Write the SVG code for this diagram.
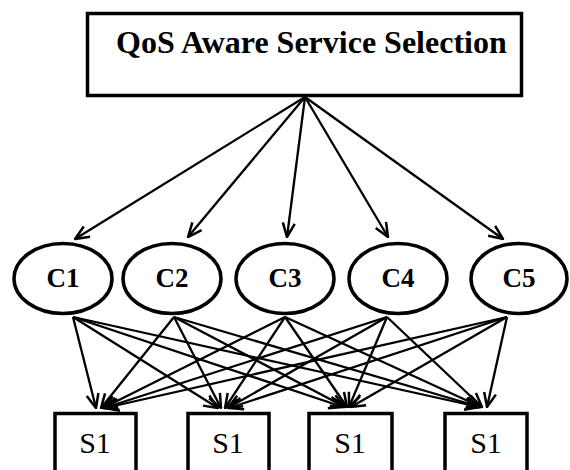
<svg xmlns="http://www.w3.org/2000/svg" width="570" height="470" viewBox="0 0 570 470">
<defs>
<marker id="ah" viewBox="0 0 16 16" markerWidth="16" markerHeight="16" markerUnits="userSpaceOnUse" refX="15" refY="8" orient="auto">
<path d="M1,2 L15,8 L1,14" fill="none" stroke="#000" stroke-width="2.5"/>
</marker>
<style>
.box{fill:#fff;stroke:#000;stroke-width:3.5}
.ell{fill:#fff;stroke:#000;stroke-width:3.5}
.title{font-family:"Liberation Serif","Times New Roman",serif;font-weight:bold;font-size:32px}
.cl{font-family:"Liberation Serif","Times New Roman",serif;font-weight:bold;font-size:27px;text-anchor:middle}
.sl{font-family:"Liberation Serif","Times New Roman",serif;font-size:30px;text-anchor:middle}
.conn line{stroke:#000;stroke-width:2.3;marker-end:url(#ah)}
</style>
</defs>
<g id="top">
<rect class="box" x="87.5" y="13.5" width="434" height="82"/>
<text class="title" x="116" y="53">QoS Aware Service Selection</text>
</g>
<g id="C1"><ellipse class="ell" cx="63" cy="278.5" rx="49" ry="35"/><text class="cl" x="63" y="287">C1</text></g>
<g id="C2"><ellipse class="ell" cx="172" cy="278.5" rx="49" ry="35"/><text class="cl" x="172" y="287">C2</text></g>
<g id="C3"><ellipse class="ell" cx="285" cy="278.5" rx="49" ry="35"/><text class="cl" x="285" y="287">C3</text></g>
<g id="C4"><ellipse class="ell" cx="398" cy="278.5" rx="49" ry="35"/><text class="cl" x="398" y="287">C4</text></g>
<g id="C5"><ellipse class="ell" cx="519" cy="278.5" rx="48" ry="35"/><text class="cl" x="519" y="287">C5</text></g>
<g id="S1a"><rect class="box" x="55" y="413.5" width="81" height="70"/><text class="sl" x="95" y="453">S1</text></g>
<g id="S1b"><rect class="box" x="188" y="413.5" width="81" height="70"/><text class="sl" x="228" y="453">S1</text></g>
<g id="S1c"><rect class="box" x="309" y="413.5" width="83" height="70"/><text class="sl" x="350" y="453">S1</text></g>
<g id="S1d"><rect class="box" x="445" y="413.5" width="82" height="70"/><text class="sl" x="486" y="453">S1</text></g>
<g class="conn" id="connectors">
<line x1="305" y1="97" x2="75" y2="239"/>
<line x1="305" y1="97" x2="188" y2="237"/>
<line x1="305" y1="97" x2="287" y2="237"/>
<line x1="305" y1="97" x2="388" y2="237"/>
<line x1="305" y1="97" x2="503" y2="239"/>

<line x1="73" y1="317" x2="96" y2="408"/>
<line x1="73" y1="317" x2="218" y2="408"/>
<line x1="73" y1="317" x2="343" y2="407"/>
<line x1="73" y1="317" x2="479" y2="407"/>

<line x1="174" y1="317" x2="101" y2="408"/>
<line x1="174" y1="317" x2="221" y2="408"/>
<line x1="174" y1="317" x2="345" y2="407"/>
<line x1="174" y1="317" x2="480" y2="407"/>

<line x1="285" y1="317" x2="103" y2="408"/>
<line x1="285" y1="317" x2="225" y2="408"/>
<line x1="285" y1="317" x2="347" y2="407"/>
<line x1="285" y1="317" x2="481" y2="407"/>

<line x1="387" y1="317" x2="104" y2="408"/>
<line x1="387" y1="317" x2="228" y2="408"/>
<line x1="387" y1="317" x2="349" y2="407"/>
<line x1="387" y1="317" x2="482" y2="407"/>

<line x1="507" y1="317" x2="105" y2="408"/>
<line x1="507" y1="317" x2="229" y2="408"/>
<line x1="507" y1="317" x2="351" y2="407"/>
<line x1="507" y1="317" x2="487" y2="407"/>
</g>
</svg>
